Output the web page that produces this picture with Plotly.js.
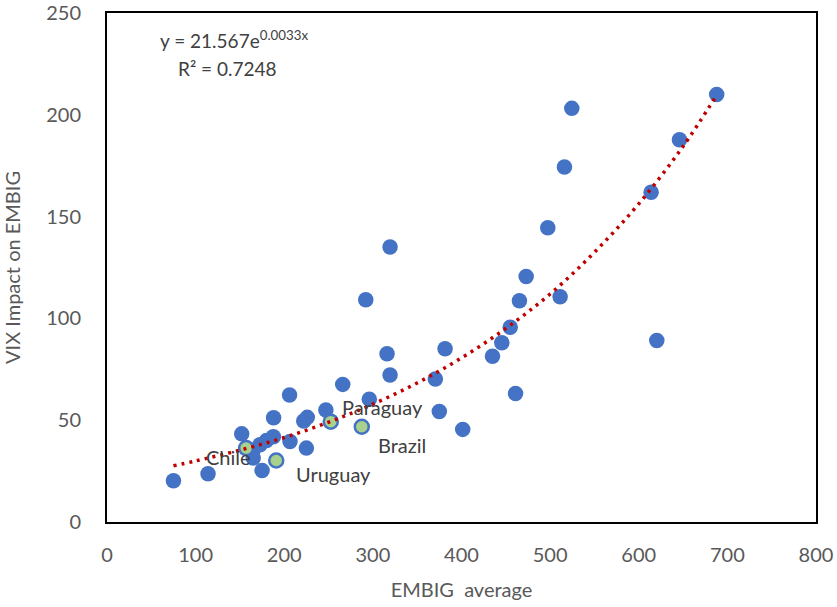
<!DOCTYPE html>
<html>
<head>
<meta charset="utf-8">
<script src="https://cdn.plot.ly/plotly-3.0.1.min.js"></script>
<style>html,body{margin:0;padding:0;background:#fff;}#chart{width:837px;height:607px;}</style>
</head>
<body>
<div id="chart"></div>
<script>
// Countries (blue markers): EMBIG average vs VIX impact on EMBIG
const embigAvg = [75, 114, 152, 165, 165, 172.6, 175, 180, 187.7, 188, 206, 206.5, 222, 226, 225, 247, 266, 292, 296, 316, 319.4, 319.4, 370.5, 375, 381.5, 401.4, 435, 445.5, 455, 461, 465.4, 473, 497.4, 511.3, 516.2, 524.5, 614, 620.4, 646, 688];
const vixImpact = [20.3, 23.7, 43.3, 35.4, 31.4, 37.9, 25.3, 40, 41.9, 51.2, 62.4, 39.5, 49.6, 51.4, 36.3, 55, 67.6, 109.2, 60.3, 82.7, 72.2, 135.1, 70.2, 54.3, 85.1, 45.5, 81.4, 88.1, 95.7, 63.1, 108.7, 120.6, 144.6, 110.7, 174.4, 203.2, 162, 89.2, 187.8, 210];

// Highlighted countries (green markers)
const hlNames = ["Chile", "Uruguay", "Paraguay", "Brazil"];
const hlEmbig = [157, 191, 252.5, 287.5];
const hlVix = [36.3, 30.2, 49.3, 46.8];

// Exponential trendline as drawn (y = 21.567e^0.0033x), read at points
const trendX = [75, 100, 150, 200, 250, 300, 350, 400, 450, 500, 550, 600, 650, 688];
const trendY = [27.6, 30, 35.3, 41.5, 49, 57.9, 68.3, 80.6, 95.1, 112, 132.5, 156.3, 184.5, 209.7];

// Tick labels
const xTicks = [0, 100, 200, 300, 400, 500, 600, 700, 800];
const yTicks = [0, 50, 100, 150, 200, 250];

// label offsets (px) for highlighted country labels
const labelShift = [[-18, -9], [57, -13], [52, 15], [40, -18]];

const FONT = "Lato, 'Open Sans', sans-serif";

const traces = [
  {
    type: "scatter", mode: "markers", x: embigAvg, y: vixImpact,
    marker: {color: "#4472C4", size: 15.5, line: {width: 0}},
    hoverinfo: "x+y", showlegend: false
  },
  {
    type: "scatter", mode: "markers", x: hlEmbig, y: hlVix, text: hlNames,
    marker: {color: "#A9D18E", size: 14, line: {color: "#4472C4", width: 2.5}},
    hoverinfo: "text+x+y", showlegend: false
  },
  {
    type: "scatter", mode: "lines", x: trendX, y: trendY,
    line: {color: "#C00000", width: 3.5, dash: "3px,5px", shape: "spline"},
    hoverinfo: "skip", showlegend: false
  }
];

const annotations = hlNames.map((n, i) => ({
  x: hlEmbig[i], y: hlVix[i], xref: "x", yref: "y", text: n, showarrow: false,
  xshift: labelShift[i][0], yshift: labelShift[i][1],
  font: {family: FONT, size: 20, color: "#404040"}
}));
annotations.push({
  xref: "paper", yref: "paper", x: 0.179, y: 0.947, xanchor: "center", yanchor: "middle",
  text: "y = 21.567e<sup>0.0033x</sup>",
  showarrow: false, font: {family: FONT, size: 19, color: "#404040"}
});
annotations.push({
  xref: "paper", yref: "paper", x: 0.17, y: 0.890, xanchor: "center", yanchor: "middle",
  text: "R² = 0.7248",
  showarrow: false, font: {family: FONT, size: 19, color: "#404040"}
});

const layout = {
  width: 837, height: 607,
  margin: {l: 107, r: 21, t: 13, b: 85, pad: 0},
  paper_bgcolor: "#ffffff", plot_bgcolor: "#ffffff",
  font: {family: FONT, color: "#595959", size: 20},
  xaxis: {
    range: [0, 800.05], tickvals: xTicks, ticktext: xTicks.map(String),
    showgrid: false, zeroline: false, showline: true, mirror: true,
    linecolor: "#000000", linewidth: 2, ticks: "", ticklabelstandoff: 14,
    ticklabeloverflow: "allow",
    tickfont: {family: FONT, size: 20, color: "#595959"},
    title: {text: "EMBIG  average", font: {family: FONT, size: 20, color: "#595959"}, standoff: 18}
  },
  yaxis: {
    range: [0, 250.05], tickvals: yTicks, ticktext: yTicks.map(String),
    showgrid: false, zeroline: false, showline: true, mirror: true,
    linecolor: "#000000", linewidth: 2, ticks: "", ticklabelstandoff: 20,
    ticklabeloverflow: "allow",
    tickfont: {family: FONT, size: 20, color: "#595959"},
    title: {text: "VIX Impact on EMBIG", font: {family: FONT, size: 20, color: "#595959"}, standoff: 20}
  },
  annotations: annotations,
  showlegend: false
};

Plotly.newPlot("chart", traces, layout, {displayModeBar: false, staticPlot: true});
</script>
</body>
</html>
